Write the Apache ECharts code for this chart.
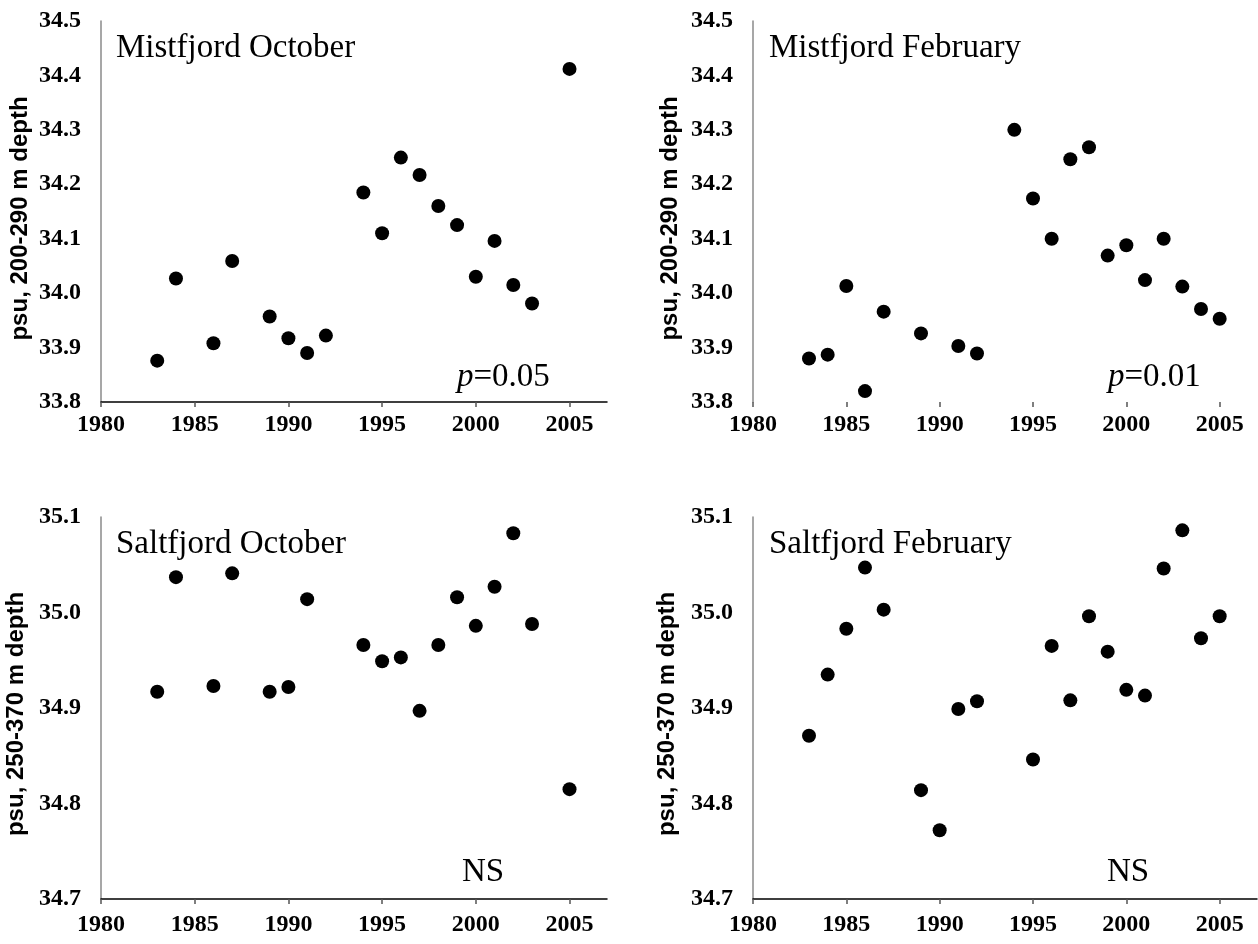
<!DOCTYPE html>
<html>
<head>
<meta charset="utf-8">
<script src="https://cdn.jsdelivr.net/npm/echarts@6/dist/echarts.min.js"></script>
<style>
  html, body { margin: 0; padding: 0; background: #fff; }
  #chart { width: 1258px; height: 944px; }
</style>
</head>
<body>
<div id="chart"></div>
<script>
// year ticks shared by all four panels
const yearTicks = [1980, 1985, 1990, 1995, 2000, 2005];

// Mistfjord October
const mistOctYears = [1983, 1984, 1986, 1987, 1989, 1990, 1991, 1992, 1994, 1995, 1996, 1997, 1998, 1999, 2000, 2001, 2002, 2003, 2005];
const mistOctPsu = [33.876, 34.027, 33.908, 34.059, 33.957, 33.917, 33.890, 33.922, 34.185, 34.110, 34.249, 34.217, 34.160, 34.125, 34.030, 34.096, 34.015, 33.981, 34.412];

// Mistfjord February
const mistFebYears = [1983, 1984, 1985, 1986, 1987, 1989, 1991, 1992, 1994, 1995, 1996, 1997, 1998, 1999, 2000, 2001, 2002, 2003, 2004, 2005];
const mistFebPsu = [33.880, 33.887, 34.013, 33.820, 33.966, 33.926, 33.903, 33.889, 34.300, 34.174, 34.100, 34.246, 34.268, 34.069, 34.088, 34.024, 34.100, 34.012, 33.971, 33.953];

// Saltfjord October
const saltOctYears = [1983, 1984, 1986, 1987, 1989, 1990, 1991, 1994, 1995, 1996, 1997, 1998, 1999, 2000, 2001, 2002, 2003, 2005];
const saltOctPsu = [34.917, 35.037, 34.923, 35.041, 34.917, 34.922, 35.014, 34.966, 34.949, 34.953, 34.897, 34.966, 35.016, 34.986, 35.027, 35.083, 34.988, 34.815];

// Saltfjord February
const saltFebYears = [1983, 1984, 1985, 1986, 1987, 1989, 1990, 1991, 1992, 1995, 1996, 1997, 1998, 1999, 2000, 2001, 2002, 2003, 2004, 2005];
const saltFebPsu = [34.871, 34.935, 34.983, 35.047, 35.003, 34.814, 34.772, 34.899, 34.907, 34.846, 34.965, 34.908, 34.996, 34.959, 34.919, 34.913, 35.046, 35.086, 34.973, 34.996];

const SERIF = '"Liberation Serif", "Times New Roman", serif';
const SANS = '"Liberation Sans", Arial, sans-serif';

const chart = echarts.init(document.getElementById('chart'), null, { renderer: 'canvas' });

const pairs = (xs, ys) => xs.map((x, i) => [x, ys[i]]);

function xAxisFor(idx, showLine, margin) {
    return {
        type: 'value',
        gridIndex: idx,
        min: 1980,
        max: 2007,
        interval: 5,
        axisLine: { show: showLine, onZero: false, lineStyle: { color: '#000', width: 1.5 } },
        axisTick: { show: true, length: 5, customValues: yearTicks, lineStyle: { color: '#555', width: 1.5 } },
        axisLabel: {
            customValues: yearTicks,
            margin: margin,
            color: '#000',
            fontFamily: SERIF,
            fontWeight: 'bold',
            fontSize: 24,
            formatter: v => String(v)
        },
        splitLine: { show: false }
    };
}

function yAxisFor(idx, min, max, name, gap, pad) {
    return {
        type: 'value',
        gridIndex: idx,
        min: min,
        max: max,
        interval: 0.1,
        name: name,
        nameLocation: 'middle',
        nameGap: gap,
        nameTextStyle: {
            color: '#000',
            fontFamily: SANS,
            fontWeight: 'bold',
            fontSize: 24,
            padding: [0, pad, 0, 0]
        },
        axisLine: { show: true, lineStyle: { color: '#8a8a8a', width: 1.5 } },
        axisTick: { show: false },
        axisLabel: {
            margin: 20,
            color: '#000',
            fontFamily: SERIF,
            fontWeight: 'bold',
            fontSize: 24,
            formatter: v => v.toFixed(1)
        },
        splitLine: { show: false }
    };
}

function scatterFor(idx, data) {
    return {
        type: 'scatter',
        xAxisIndex: idx,
        yAxisIndex: idx,
        data: data,
        symbol: 'circle',
        symbolSize: 14,
        itemStyle: { color: '#000', opacity: 1 }
    };
}

function label(text, x, y) {
    return {
        type: 'text',
        x: x,
        y: y,
        style: {
            text: text,
            fill: '#000',
            font: '33px ' + SERIF,
            verticalAlign: 'middle',
            rich: { i: { fontStyle: 'italic', fontSize: 33, fontFamily: SERIF } }
        }
    };
}

const option = {
    animation: false,
    backgroundColor: '#fff',
    grid: [
        { left: 101, top: 21, width: 506, height: 381 },
        { left: 753, top: 21, width: 504, height: 381 },
        { left: 101, top: 517, width: 506, height: 382 },
        { left: 753, top: 517, width: 504, height: 382 }
    ],
    xAxis: [
        xAxisFor(0, true, 11),
        xAxisFor(1, false, 11),
        xAxisFor(2, true, 14),
        xAxisFor(3, true, 14)
    ],
    yAxis: [
        yAxisFor(0, 33.8, 34.5, 'psu, 200-290 m depth', 69, 14),
        yAxisFor(1, 33.8, 34.5, 'psu, 200-290 m depth', 71, 14),
        yAxisFor(2, 34.7, 35.1, 'psu, 250-370 m depth', 73, 12),
        yAxisFor(3, 34.7, 35.1, 'psu, 250-370 m depth', 74, 12)
    ],
    series: [
        scatterFor(0, pairs(mistOctYears, mistOctPsu)),
        scatterFor(1, pairs(mistFebYears, mistFebPsu)),
        scatterFor(2, pairs(saltOctYears, saltOctPsu)),
        scatterFor(3, pairs(saltFebYears, saltFebPsu))
    ],
    graphic: [
        label('Mistfjord October', 116, 48),
        label('Mistfjord February', 769, 48),
        label('Saltfjord October', 116, 544),
        label('Saltfjord February', 769, 544),
        label('{i|p}=0.05', 457, 377),
        label('{i|p}=0.01', 1108, 377),
        label('NS', 462, 872),
        label('NS', 1107, 872)
    ]
};

chart.setOption(option);
</script>
</body>
</html>
